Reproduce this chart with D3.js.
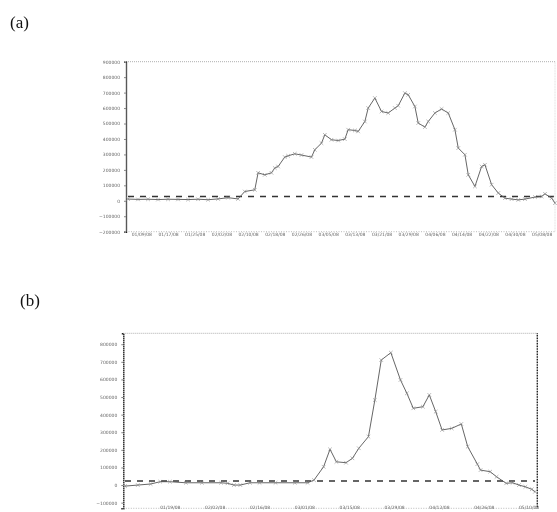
<!DOCTYPE html>
<html>
<head>
<meta charset="utf-8">
<script src="https://cdn.jsdelivr.net/npm/d3@7"></script>
<style>
  body { margin: 0; background: #fff; }
  svg { display: block; will-change: transform; }
  .panel-label { font-family: "Liberation Serif", "DejaVu Serif", serif; font-size: 17px; fill: #111; }
  .tick text { font-family: "DejaVu Sans", sans-serif; font-size: 4.5px; fill: #666; }
</style>
</head>
<body>
<svg id="vis" width="557" height="512"></svg>
<script>
// panel (a) series: day index and value
const daysA = [0, 3, 6, 9, 12, 15, 18, 21, 24, 27, 30, 33, 35, 38, 39, 41, 43, 44, 45, 47, 48, 50, 52, 55, 56, 58, 59, 61, 63, 65, 66, 68, 69, 71, 72, 74, 76, 78, 80, 81, 83, 84, 86, 87, 89, 90, 92, 94, 96, 98, 99, 101, 102, 104, 106, 107, 109, 111, 113, 115, 117, 119, 122, 124, 125, 127, 128];
const valuesA = [11000, 9000, 10000, 8000, 10000, 9000, 8000, 10000, 7000, 12000, 20000, 12000, 60000, 71000, 181000, 168000, 181000, 212000, 222000, 283000, 291000, 304000, 296000, 283000, 330000, 373000, 427000, 395000, 390000, 399000, 460000, 455000, 449000, 513000, 600000, 665000, 578000, 568000, 600000, 615000, 697000, 686000, 610000, 503000, 477000, 513000, 568000, 594000, 568000, 460000, 341000, 298000, 168000, 93000, 222000, 233000, 104000, 50000, 17000, 11000, 6000, 11000, 24000, 28000, 45000, 17000, -15000];
const thresholdA = 28000;

// panel (b) series
const daysB = [0, 4, 8, 11, 14, 19, 24, 30, 32, 34, 36, 39, 42, 47, 53, 57, 59, 62, 64, 66, 69, 71, 73, 76, 78, 80, 83, 86, 88, 90, 93, 95, 97, 99, 102, 105, 107, 110, 111, 114, 116, 119, 121, 123, 125, 127, 128];
const valuesB = [-6000, 0, 6000, 19000, 19000, 13000, 13000, 13000, 10000, 0, 0, 13000, 13000, 13000, 13000, 13000, 28000, 104000, 203000, 132000, 127000, 152000, 209000, 275000, 483000, 710000, 752000, 597000, 521000, 436000, 445000, 512000, 417000, 313000, 322000, 347000, 218000, 119000, 85000, 76000, 47000, 10000, 13000, 0, -10000, -24000, -38000];
const thresholdB = 23000;

// axis ticks
const yTicksA = [-200000, -100000, 0, 100000, 200000, 300000, 400000, 500000, 600000, 700000, 800000, 900000];
const yTicksB = [-100000, 0, 100000, 200000, 300000, 400000, 500000, 600000, 700000, 800000];
const xTicksA = [4, 12, 20, 28, 36, 44, 52, 60, 68, 76, 84, 92, 100, 108, 116, 124];
const xLabelsA = ["01/09/08", "01/17/08", "01/25/08", "02/02/08", "02/10/08", "02/18/08", "02/26/08", "03/05/08", "03/13/08", "03/21/08", "03/29/08", "04/06/08", "04/14/08", "04/22/08", "04/30/08", "05/08/08"];
const xTicksB = [14, 28, 42, 56, 70, 84, 98, 112, 126];
const xLabelsB = ["01/19/08", "02/02/08", "02/16/08", "03/01/08", "03/15/08", "03/29/08", "04/12/08", "04/26/08", "05/10/08"];

const svg = d3.select('#vis');

svg.append("text").attr("class", "panel-label").attr("x", 10).attr("y", 28).text("(a)");
svg.append("text").attr("class", "panel-label").attr("x", 20).attr("y", 306).text("(b)");

function drawPanel(opt) {
    const x = d3.scaleLinear().domain([0, 128]).range(opt.xRange);
    const y = d3.scaleLinear().domain(opt.yDomain).range(opt.yRange);
    const g = svg.append("g");

    const left = opt.frameX[0], right = opt.frameX[1];
    const top = opt.yRange[1], bottom = opt.yRange[0];

    // frame: dotted top / bottom, faint or solid right
    g.append("line").attr("x1", left).attr("x2", right).attr("y1", top).attr("y2", top)
        .attr("stroke", "#999").attr("stroke-width", 0.8).attr("stroke-dasharray", "1,1");
    g.append("line").attr("x1", left).attr("x2", right).attr("y1", bottom).attr("y2", bottom)
        .attr("stroke", "#aaa").attr("stroke-width", 0.8).attr("stroke-dasharray", "1,1.5");
    g.append("line").attr("x1", right).attr("x2", right).attr("y1", top).attr("y2", bottom)
        .attr("stroke", opt.rightColor).attr("stroke-width", opt.rightWidth).attr("stroke-dasharray", "1,0.6");

    // y axis
    const yAxis = g.append("g")
        .attr("transform", "translate(" + left + ",0)")
        .call(d3.axisLeft(y).tickValues(opt.yTicks).tickSize(2).tickPadding(4)
            .tickFormat(d3.format("d")));
    yAxis.select(".domain").attr("stroke", "#222").attr("stroke-width", 1.4).attr("stroke-dasharray", "1.5,0.5");
    yAxis.selectAll(".tick line").attr("stroke", "#888");

    // x axis labels
    const xAxis = g.append("g")
        .attr("transform", "translate(0," + (bottom + opt.xLabelShift) + ")")
        .call(d3.axisBottom(x).tickValues(opt.xTicks).tickSize(0).tickPadding(0)
            .tickFormat(function (d, i) { return opt.xLabels[i]; }));
    xAxis.select(".domain").remove();

    // threshold dashed line
    g.append("line")
        .attr("x1", x(0)).attr("x2", x(128))
        .attr("y1", y(opt.threshold)).attr("y2", y(opt.threshold))
        .attr("stroke", "#333").attr("stroke-width", 1.4).attr("stroke-dasharray", "6,6");

    const pts = opt.days.map(function (d, i) { return [d, opt.values[i]]; });

    g.append("path")
        .datum(pts)
        .attr("fill", "none")
        .attr("stroke", "#555")
        .attr("stroke-width", 0.9)
        .attr("d", d3.line().x(function (d) { return x(d[0]); }).y(function (d) { return y(d[1]); }));

    // x markers
    g.selectAll(".mark")
        .data(pts)
        .enter().append("path")
        .attr("class", "mark")
        .attr("transform", function (d) { return "translate(" + x(d[0]) + "," + y(d[1]) + ")"; })
        .attr("d", "M-1.8,-1.8L1.8,1.8M-1.8,1.8L1.8,-1.8")
        .attr("stroke", "#888")
        .attr("stroke-width", 0.6);
}

drawPanel({
    days: daysA, values: valuesA, threshold: thresholdA,
    xRange: [128, 555], frameX: [126, 555],
    yDomain: [-200000, 900000], yRange: [231.7, 61.7],
    yTicks: yTicksA, xTicks: xTicksA, xLabels: xLabelsA, xLabelShift: 1,
    rightColor: "#ccc", rightWidth: 0.6
});

drawPanel({
    days: daysB, values: valuesB, threshold: thresholdB,
    xRange: [125, 535], frameX: [123.3, 537.3],
    yDomain: [-132000, 862000], yRange: [508.3, 333.3],
    yTicks: yTicksB, xTicks: xTicksB, xLabels: xLabelsB, xLabelShift: -2.5,
    rightColor: "#222", rightWidth: 1.4
});
</script>
</body>
</html>
